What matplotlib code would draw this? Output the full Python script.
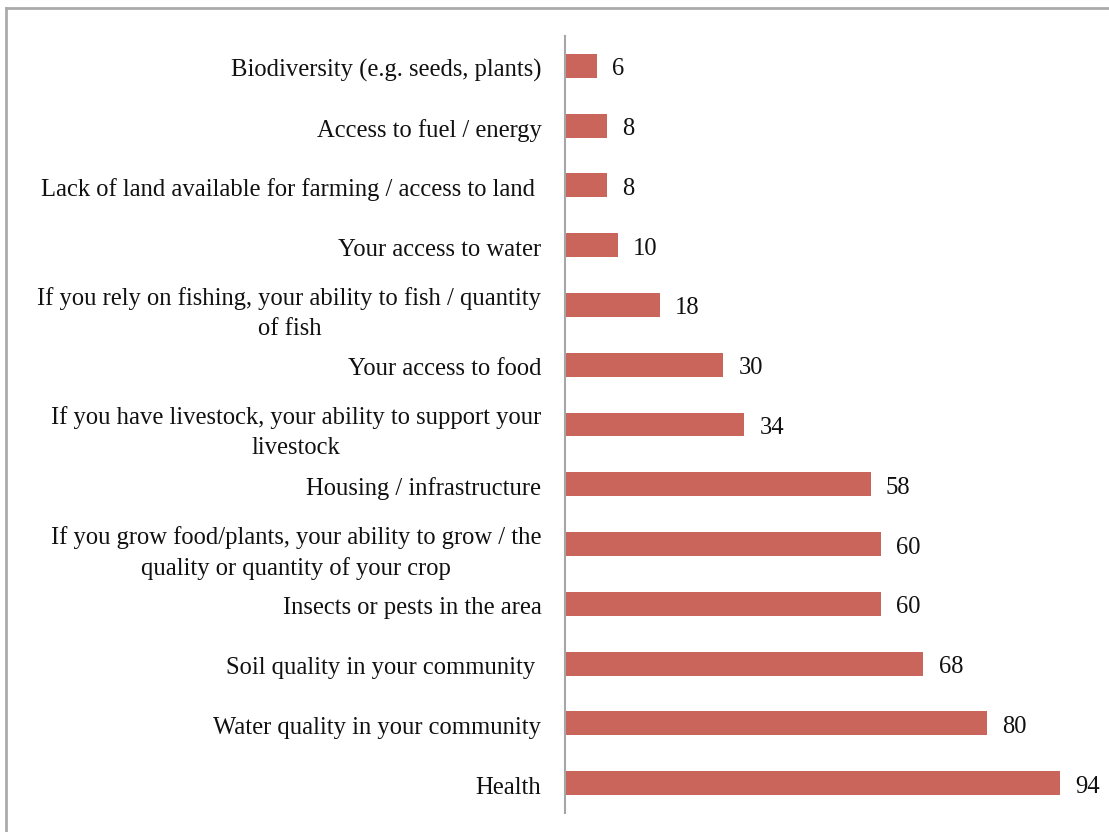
import matplotlib.pyplot as plt
import matplotlib.transforms as mtransforms
from matplotlib.lines import Line2D

plt.rcParams['font.family'] = ['Liberation Serif', 'DejaVu Serif']

# categories listed bottom to top
categories = [
    "Health",
    "Water quality in your community",
    "Soil quality in your community ",
    "Insects or pests in the area",
    "If you grow food/plants, your ability to grow / the\nquality or quantity of your crop",
    "Housing / infrastructure",
    "If you have livestock, your ability to support your\nlivestock",
    "Your access to food",
    "If you rely on fishing, your ability to fish / quantity\nof fish",
    "Your access to water",
    "Lack of land available for farming / access to land ",
    "Access to fuel / energy",
    "Biodiversity (e.g. seeds, plants)",
]
values = [94, 80, 68, 60, 60, 58, 34, 30, 18, 10, 8, 8, 6]

bar_color = '#C9655A'
font_size = 17.7

fig = plt.figure(figsize=(11.09, 8.32), dpi=100)
ax = fig.add_axes([565 / 1109, 19 / 832, 527 / 1109, 777 / 832])

y = list(range(len(categories)))
bars = ax.barh(y, values, height=0.4, color=bar_color)
ax.set_xlim(0, 100)
ax.set_ylim(-0.5, len(categories) - 0.5)

ax.set_yticks(y)
ax.set_yticklabels(categories, fontsize=font_size, multialignment='center',
                   linespacing=1.45, color='#111111')
ax.tick_params(axis='y', length=0, pad=17)
ax.set_xticks([])

# nudge category labels slightly below the bar centres
shift = mtransforms.ScaledTranslation(0, -2 / 100, fig.dpi_scale_trans)
for lbl in ax.get_yticklabels():
    lbl.set_transform(lbl.get_transform() + shift)

for s in ['top', 'right', 'bottom']:
    ax.spines[s].set_visible(False)
ax.spines['left'].set_color('#A6A6A6')
ax.spines['left'].set_linewidth(1.5)

for rect, v in zip(bars, values):
    ax.annotate(str(v), xy=(rect.get_width(), rect.get_y() + rect.get_height() / 2),
                xytext=(11, -2.5), textcoords='offset points',
                ha='left', va='center', fontsize=font_size, color='#111111')

# frame lines along the top and left of the figure
fig.add_artist(Line2D([6 / 1109, 6 / 1109], [0, 1 - 8 / 832], transform=fig.transFigure,
                      color='#ABABAB', linewidth=2))
fig.add_artist(Line2D([6 / 1109, 1], [1 - 8 / 832, 1 - 8 / 832], transform=fig.transFigure,
                      color='#ABABAB', linewidth=2))

fig.savefig('out.png', dpi=100)
